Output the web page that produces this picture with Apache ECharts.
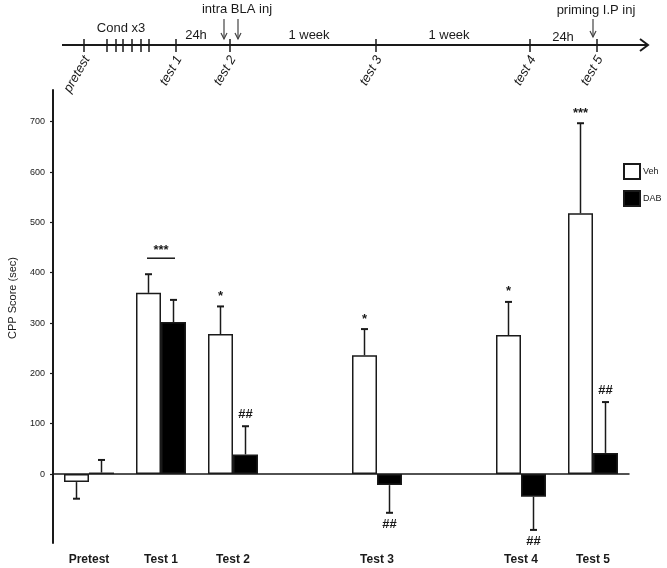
<!DOCTYPE html>
<html>
<head>
<meta charset="utf-8">
<script src="https://cdn.jsdelivr.net/npm/echarts@6/dist/echarts.min.js"></script>
<style>html,body{margin:0;padding:0;background:#fff}#c{width:667px;height:568px}</style>
</head>
<body>
<div id="c"></div>
<script>
// ---- data ----
const categories = ['Pretest', 'Test 1', 'Test 2', '', 'Test 3', '', 'Test 4', 'Test 5'];
const vehMean = [-16, 360, 278, null, 236, null, 276, 518];
const vehSem  = [33, 37, 55, null, 52, null, 66, 179];
const dabMean = [3, 302, 39, null, -22, null, -45, 42];
const dabSem  = [25, 44, 56, null, 55, null, 66, 101];
const vehSig  = ['', '', '*', '', '*', '', '*', '***'];
const dabSig  = ['', '', '##', '', '##', '', '##', '##'];
const pairSig = ['', '***', '', '', '', '', '', ''];
const yTickValues = [0, 100, 200, 300, 400, 500, 600, 700];
const seriesNames = ['Veh', 'DAB'];
const timelineTests = ['pretest', 'test 1', 'test 2', 'test 3', 'test 4', 'test 5'];
const timelineNotes = ['Cond x3', '24h', 'intra BLA inj', '1 week', '1 week', '24h', 'priming I.P inj'];

// ---- chart ----
const INK = '#1a1a1a';
const FONT = '"Liberation Sans", Arial, sans-serif';
const BAR_W = 25;
const chart = echarts.init(document.getElementById('c'), null, {renderer: 'canvas'});

function errData(mean, sem) {
  return mean.map((m, i) => m == null ? [i, null, null] : [i, m, sem[i]]);
}
function errRender(offset, sigArr) {
  return function (params, api) {
    const i = params.dataIndex;
    const m = api.value(1);
    const e = api.value(2);
    if (m == null || isNaN(m)) return null;
    const sign = m < 0 ? -1 : 1;
    const p0 = api.coord([i, m]);
    const p1 = api.coord([i, m + sign * e]);
    const x = p0[0] + offset;
    const children = [
      {type: 'line', shape: {x1: x, y1: p0[1], x2: x, y2: p1[1]}, style: {stroke: INK, lineWidth: 1.5}},
      {type: 'line', shape: {x1: x - 3.5, y1: p1[1], x2: x + 3.5, y2: p1[1]}, style: {stroke: INK, lineWidth: 2}}
    ];
    const s = sigArr[i];
    if (s) {
      const star = s.indexOf('*') >= 0;
      const y = sign > 0 ? p1[1] - (star ? 10 : 12) : p1[1] + 12;
      children.push({type: 'text', x: x, y: y, style: {text: s, fill: INK, font: 'bold 13px ' + FONT, align: 'center', verticalAlign: 'middle'}});
    }
    return {type: 'group', children: children};
  };
}
function pairRender(params, api) {
  const i = params.dataIndex;
  const s = pairSig[i];
  if (!s) return null;
  const topV = Math.max(vehMean[i] + vehSem[i], dabMean[i] + dabSem[i]);
  const p = api.coord([i, topV]);
  const x = p[0];
  const yl = p[1] - 16;
  return {type: 'group', children: [
    {type: 'line', shape: {x1: x - 14, y1: yl, x2: x + 14, y2: yl}, style: {stroke: INK, lineWidth: 1.5}},
    {type: 'text', x: x, y: yl - 8, style: {text: s, fill: INK, font: 'bold 13px ' + FONT, align: 'center', verticalAlign: 'middle'}}
  ]};
}

// ---- timeline graphic (top schematic) ----
const TY = 45;
const g = [];
g.push({type: 'line', shape: {x1: 62, y1: TY, x2: 648, y2: TY}, style: {stroke: INK, lineWidth: 2}});
g.push({type: 'polyline', shape: {points: [[640, TY - 6], [648, TY], [640, TY + 6]]}, style: {stroke: INK, lineWidth: 2, fill: null}});
const testX = [84, 176, 230, 376, 530, 597];
const condX = [107, 116, 123, 132, 141, 149];
testX.concat(condX).forEach(x => g.push({type: 'line', shape: {x1: x, y1: TY - 6, x2: x, y2: TY + 7}, style: {stroke: INK, lineWidth: 1.5}}));
timelineTests.forEach((t, k) => g.push({
  type: 'text', x: testX[k] + 3, y: TY + 12, rotation: Math.PI / 3,
  style: {text: t, fill: INK, font: 'italic 13px ' + FONT, align: 'right', verticalAlign: 'middle'}
}));
const noteXY = [[121, 28], [196, 35], [237, 9], [309, 35], [449, 35], [563, 37], [596, 10]];
timelineNotes.forEach((t, k) => g.push({
  type: 'text', x: noteXY[k][0], y: noteXY[k][1],
  style: {text: t, fill: INK, font: '13px ' + FONT, align: 'center', verticalAlign: 'middle'}
}));
[[224, 19, 39], [238, 19, 39], [593, 19, 37]].forEach(a => {
  g.push({type: 'line', shape: {x1: a[0], y1: a[1], x2: a[0], y2: a[2]}, style: {stroke: '#444', lineWidth: 1.2}});
  g.push({type: 'polyline', shape: {points: [[a[0] - 3, a[2] - 6], [a[0], a[2]], [a[0] + 3, a[2] - 6]]}, style: {stroke: '#444', lineWidth: 1.2, fill: null}});
});
g.push({type: 'text', x: 13, y: 298, rotation: Math.PI / 2,
  style: {text: 'CPP Score (sec)', fill: INK, font: '11px "Liberation Sans Narrow", ' + FONT, align: 'center', verticalAlign: 'middle'}});

const option = {
  animation: false,
  backgroundColor: '#fff',
  textStyle: {fontFamily: FONT},
  grid: {left: 53, top: 90, width: 576, height: 453},
  legend: {
    data: seriesNames.map(n => ({name: n, icon: 'rect'})), orient: 'vertical', left: 621, top: 161,
    itemWidth: 16, itemHeight: 15, itemGap: 10, padding: 2,
    textStyle: {fontSize: 9, color: INK, fontFamily: '"Liberation Sans Narrow", ' + FONT, padding: [0, 0, 0, -2]}
  },
  xAxis: [
    {type: 'category', data: categories, axisLine: {onZero: true, lineStyle: {color: INK, width: 1.5}},
     axisTick: {show: false}, axisLabel: {show: false}, splitLine: {show: false}},
    {type: 'category', data: categories, position: 'bottom', axisLine: {show: false, onZero: false},
     axisTick: {show: false}, splitLine: {show: false},
     axisLabel: {interval: 0, margin: 11, color: INK, fontSize: 12, fontWeight: 'bold', fontFamily: FONT}}
  ],
  yAxis: {
    type: 'value', min: -137, max: 763, splitLine: {show: false},
    axisLine: {show: true, lineStyle: {color: INK, width: 2}},
    axisTick: {show: true, length: 3, customValues: yTickValues, lineStyle: {color: INK, width: 1.2}},
    axisLabel: {customValues: yTickValues, margin: 8, fontSize: 9, color: INK, fontFamily: FONT}
  },
  series: [
    {name: seriesNames[0], type: 'bar', data: vehMean, barWidth: BAR_W, barGap: '0%',
     itemStyle: {color: '#fff', borderColor: INK, borderWidth: 1.5}, emphasis: {disabled: true}},
    {name: seriesNames[1], type: 'bar', data: dabMean, barWidth: BAR_W, barGap: '0%',
     itemStyle: {color: '#000', borderColor: INK, borderWidth: 1.5}, emphasis: {disabled: true}},
    {type: 'custom', data: errData(vehMean, vehSem), renderItem: errRender(-BAR_W / 2, vehSig), z: 5, silent: true},
    {type: 'custom', data: errData(dabMean, dabSem), renderItem: errRender(BAR_W / 2, dabSig), z: 5, silent: true},
    {type: 'custom', data: categories.map((c, i) => [i, 0]), renderItem: pairRender, z: 5, silent: true}
  ],
  graphic: g
};
chart.setOption(option);
</script>
</body>
</html>
